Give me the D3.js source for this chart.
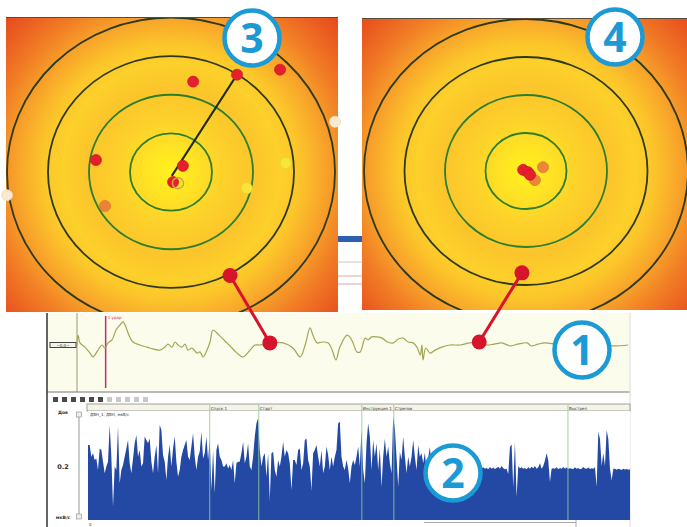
<!DOCTYPE html>
<html><head><meta charset="utf-8">
<script src="https://cdn.jsdelivr.net/npm/d3@7"></script>
<style>html,body{margin:0;padding:0;background:#fff;}svg{display:block;}</style>
</head><body>
<svg id="chart" width="687" height="527"></svg>
<script>
// ---------------- DATA ----------------
const ringRadii = [1, 2, 3, 4];

// Panel 3 shots (target units, rings at 1..4)
const shots3X = [1.61, 2.66, 0.54, -1.83, 0.29, 0.05, 0.17, 2.80, 1.85, -1.61, -4.0, 4.0];
const shots3Y = [2.52, 2.65, 2.34, 0.31, 0.16, -0.26, -0.29, 0.23, -0.42, -0.88, -0.6, 1.3];
const shots3Kind = ["red","red","red","red","red","red","hollow","yellow","yellow","orange","pale","pale"];
const aim3From = [0.02, -0.1];          // start of the aiming line
const aim3To = [1.61, 2.52];            // end of the aiming line

// Panel 4 shots
const shots4X = [0.42, 0.22, -0.07, 0.05, 0.10];
const shots4Y = [0.10, -0.24, 0.03, -0.03, -0.10];
const shots4Kind = ["orange","orange","red","red","red"];

// linked points: target panel point -> trace time
const linkX = [1.44, -0.10];
const linkY = [-2.68, -2.68];
const linkT = [35.0, 73.0];

// Trace (panel 1)
const traceT = [0,0.18,0.54,1.45,2.36,2.9,3.81,4.54,5.08,5.63,6.35,7.08,7.8,8.35,8.89,9.26,10.16,11.43,12.7,13.79,15.06,15.97,16.52,17.24,17.79,18.33,19.06,19.6,20.15,20.87,21.78,22.32,22.87,23.59,24.14,24.68,25.41,26.32,27.22,28.13,29.04,30.13,31.4,32.3,33.2,35.0,37.4,39.2,40.5,41.4,42.3,42.8,43.6,44.5,45.6,46.3,47.0,47.7,49.0,49.5,50.1,50.8,51.4,52.3,52.8,53.5,54.4,55.4,56.3,57.4,58.3,59.2,60.1,61.0,61.7,62.3,62.6,62.8,63.3,64.1,65.0,66.2,67.7,69.5,71.3,73.0,74.4,75.7,77.1,78.6,80.0,81.7,82.4,83.7,84.9,86.9,88.7,90.6,93.1,94.9,97.1,100];
const traceV = [0,0.33,0.07,-0.07,-0.27,-0.4,-0.17,0,-0.1,0.07,0.17,0.5,0.67,0.77,0.6,0.4,0.1,0,-0.07,-0.13,-0.17,-0.07,0.03,-0.07,0.1,0,-0.07,0.03,-0.17,-0.1,-0.27,-0.23,-0.4,-0.17,0.1,0.5,0.4,0.23,0.07,-0.1,-0.27,-0.4,-0.17,0,0,0.07,0.07,-0.1,-0.4,0,0.57,0.33,0.07,0.1,0.07,-0.17,-0.5,-0.07,0.33,0.27,0.07,-0.23,-0.23,0.23,0.17,0.27,0.27,0.23,0.1,0.07,0.2,0.23,0.1,0.07,-0.07,-0.33,0,-0.5,-0.1,-0.27,-0.17,-0.07,0,0,0.07,0.1,0,0.03,0.07,-0.03,0.03,0.07,-0.03,0.03,0.07,0.03,0,0.03,0,0.03,-0.03,0];
const traceMarkT = 5.2;   // magenta marker
const traceMarkLabel = "1 удар";

// Signal (panel 2), in units of the axis (0 .. 0.4)
const signal = [
0.278,0.278,0.234,0.247,0.222,0.228,0.185,0.265,0.259,0.216,
0.173,0.198,0.216,0.352,0.234,0.049,0.198,0.185,0.346,0.136,
0.185,0.204,0.234,0.265,0.296,0.210,0.173,0.228,0.284,0.315,
0.234,0.259,0.198,0.210,0.309,0.296,0.284,0.302,0.216,0.173,
0.234,0.278,0.173,0.352,0.333,0.241,0.216,0.148,0.234,0.278,
0.198,0.265,0.309,0.216,0.160,0.185,0.234,0.259,0.278,0.296,
0.234,0.222,0.272,0.321,0.234,0.185,0.234,0.253,0.327,0.228,
0.247,0.309,0.222,0.296,0.111,0.259,0.099,0.259,0.284,0.234,
0.222,0.198,0.198,0.210,0.191,0.204,0.185,0.222,0.136,0.210,
0.216,0.216,0.247,0.290,0.210,0.234,0.284,0.198,0.185,0.234,
0.309,0.358,0.377,
0.259,0.198,0.234,0.247,0.160,0.247,0.074,0.247,0.253,0.185,
0.160,0.222,0.198,0.234,0.290,0.234,0.259,0.247,0.210,0.111,
0.222,0.222,0.204,0.259,0.265,0.185,0.210,0.296,0.302,0.222,
0.198,0.111,0.247,0.259,0.278,0.234,0.198,0.259,0.173,0.198,
0.272,0.241,0.185,0.234,0.198,0.234,0.259,0.358,0.364,0.234,
0.198,0.185,0.222,0.191,0.136,0.198,0.222,0.204,0.234,0.272,
0.198,0.333,0.185,0.136,0.284,0.358,0.309,0.185,0.296,0.234,
0.284,0.185,0.265,0.123,0.234,0.302,0.234,0.272,0.210,0.173,
0.383,0.340,0.234,0.123,0.253,0.222,0.309,0.234,0.173,0.234,
0.198,0.234,0.296,0.234,0.185,0.278,0.234,0.247,
0.21,0.25,0.18,0.23,0.27,0.2,0.22,0.16,0.24,0.21,
0.26,0.19,0.22,0.2,0.24,0.18,0.21,0.23,0.2,0.19,
0.22,0.2,0.21,0.19,0.2,0.195,0.19,0.2,0.19,0.195,
0.19,0.188,0.192,0.19,0.195,
0.192,0.195,0.19,0.193,0.188,0.196,0.19,0.194,0.189,0.193,0.197,0.19,0.2,0.192,0.188,0.19,
0.17,0.27,0.28,0.12,0.29,0.086,
0.2,0.192,0.195,0.19,0.193,0.188,0.195,0.19,0.197,0.192,0.2,0.19,0.195,0.21,0.19,0.2,0.22,
0.247,0.22,0.142,0.19,
0.192,0.19,0.195,0.188,0.193,0.19,0.196,0.19,0.194,
0.19,
0.192,0.19,0.189,0.195,0.19,0.193,0.188,0.19,0.196,0.191,0.19,0.194,0.189,0.192,0.19,0.195,
0.123,0.327,0.3,0.2,0.247,0.2,0.333,0.3,0.19,0.148,0.19,
0.19,0.186,0.19,0.188,0.185,0.19,0.187,0.189,0.186,0.188
];
const eventIdx = [73.0, 102.4, 164.2, 183.4, 287.8];
const eventLabels = ["Спуск 1", "Старт", "Инструкция 1", "Стрелок", "Выстрел"];
const signalTicks = [0.4, 0.2, 0];
const signalTickLabels = ["Дов", "0.2", "мкВ/с"];
const signalTitle = "ДВН_1, ДВН, мкВ/с";

const badgeLabels = ["1", "2", "3", "4"];

// ---------------- DRAWING ----------------
const svg = d3.select("#chart");
const defs = svg.append("defs");
const BLUE = "#1b9ad6";
const RED = "#d6142c";
const kindFill = {red:"#e3202c", yellow:"#f7e63a", orange:"#e8773c", pale:"#f8ead0", hollow:"none"};
const kindStroke = {red:"#d01a26", yellow:"#eed52c", orange:"#de6a34", pale:"#f2dcb8", hollow:"#d2a640"};

function makePanel(id, box, cx, cy, rx, ry) {
  const x = d3.scaleLinear().domain([-4, 4]).range([cx - rx, cx + rx]);
  const y = d3.scaleLinear().domain([-4, 4]).range([cy + ry, cy - ry]);
  const g = defs.append("radialGradient").attr("id", "grad" + id)
    .attr("gradientUnits", "userSpaceOnUse").attr("cx", cx).attr("cy", cy).attr("r", 232);
  [[0,"#fff21e"],[0.09,"#ffe622"],[0.22,"#fdd22a"],[0.36,"#fbc52b"],[0.47,"#fdd02a"],
   [0.55,"#fcc62a"],[0.66,"#f8a52a"],[0.78,"#f17d25"],[0.9,"#ea5c20"],[1,"#e4451c"]]
    .forEach(([o,c]) => g.append("stop").attr("offset", o).attr("stop-color", c));
  defs.append("clipPath").attr("id", "clip" + id).append("rect")
    .attr("x", box[0]).attr("y", box[1]).attr("width", box[2] - box[0]).attr("height", box[3] - box[1]);
  const grp = svg.append("g").attr("clip-path", `url(#clip${id})`);
  grp.append("rect").attr("x", box[0]).attr("y", box[1]).attr("width", box[2] - box[0])
    .attr("height", box[3] - box[1]).attr("fill", `url(#grad${id})`);
  grp.selectAll("ellipse.ring").data(ringRadii).join("ellipse").attr("class", "ring")
    .attr("cx", x(0)).attr("cy", y(0))
    .attr("rx", d => x(d) - x(0)).attr("ry", d => y(0) - y(d))
    .attr("fill", "none")
    .attr("stroke", (d, i) => i < 2 ? "#2c7d2e" : "#2e3a1c")
    .attr("stroke-width", 1.8);
  svg.append("line").attr("x1", box[0]).attr("x2", box[2]).attr("y1", box[1] + 0.5).attr("y2", box[1] + 0.5)
    .attr("stroke", "#5a4a3a").attr("stroke-width", 1);
  return {x, y, grp};
}

const p3 = makePanel(3, [6, 17, 338, 312], 171, 172, 164, 154.5);
const p4 = makePanel(4, [362, 18, 687, 310], 526, 171, 162, 152);

// aiming line panel 3
p3.grp.append("line")
  .attr("x1", p3.x(aim3From[0])).attr("y1", p3.y(aim3From[1]))
  .attr("x2", p3.x(aim3To[0])).attr("y2", p3.y(aim3To[1]))
  .attr("stroke", "#1e2a12").attr("stroke-width", 2);

function drawShots(p, xs, ys, kinds) {
  const data = xs.map((v, i) => ({x: v, y: ys[i], k: kinds[i]}));
  svg.selectAll(null).data(data).join("circle")
    .attr("cx", d => p.x(d.x)).attr("cy", d => p.y(d.y)).attr("r", 5.5)
    .attr("fill", d => kindFill[d.k]).attr("stroke", d => kindStroke[d.k])
    .attr("stroke-width", d => d.k === "hollow" ? 1.5 : 0.8)
    .attr("opacity", d => d.k === "orange" ? 0.85 : 1);
}
drawShots(p3, shots3X, shots3Y, shots3Kind);
drawShots(p4, shots4X, shots4Y, shots4Kind);

// window fragment between panels
svg.append("rect").attr("x", 338).attr("y", 236).attr("width", 24).attr("height", 6).attr("fill", "#2d5fb0");
svg.append("line").attr("x1", 338).attr("x2", 362).attr("y1", 262).attr("y2", 262).attr("stroke", "#c8c8c8");
svg.append("line").attr("x1", 338).attr("x2", 362).attr("y1", 276).attr("y2", 276).attr("stroke", "#e0b090");
svg.append("line").attr("x1", 338).attr("x2", 362).attr("y1", 284).attr("y2", 284).attr("stroke", "#e0a0b0");

// ---------- Panel 1 : trace ----------
const tr = {left: 47, top: 313, right: 630, bottom: 392};
svg.append("rect").attr("x", tr.left).attr("y", tr.top).attr("width", tr.right - tr.left)
  .attr("height", tr.bottom - tr.top).attr("fill", "#fcfcec");
const tx = d3.scaleLinear().domain([0, 100]).range([77, 628]);
const ty = d3.scaleLinear().domain([-1, 1]).range([375, 315]);
svg.append("line").attr("x1", tx(0)).attr("x2", tx(0)).attr("y1", tr.top).attr("y2", tr.bottom)
  .attr("stroke", "#9a9a78").attr("stroke-width", 1);
svg.append("line").attr("x1", tx(traceMarkT)).attr("x2", tx(traceMarkT)).attr("y1", 316).attr("y2", 388)
  .attr("stroke", "#b5307e").attr("stroke-width", 1.5);
svg.append("text").attr("x", tx(traceMarkT) + 2).attr("y", 319).text(traceMarkLabel)
  .attr("font-family", "DejaVu Sans").attr("font-size", 4).attr("fill", "#c03070");
svg.append("rect").attr("x", 50).attr("y", 342.5).attr("width", 26).attr("height", 5)
  .attr("fill", "#f4f4ea").attr("stroke", "#444").attr("stroke-width", 1);
svg.append("text").attr("x", 63).attr("y", 346.5).attr("text-anchor", "middle").text("−0.0−")
  .attr("font-family", "DejaVu Sans").attr("font-size", 4).attr("fill", "#333");
const traceData = traceT.map((t, i) => [t, traceV[i]]);
svg.append("path").datum(traceData)
  .attr("d", d3.line().x(d => tx(d[0])).y(d => ty(d[1])).curve(d3.curveCatmullRom))
  .attr("fill", "none").attr("stroke", "#a2a654").attr("stroke-width", 1.2);
svg.append("line").attr("x1", tr.left).attr("x2", tr.right).attr("y1", tr.bottom).attr("y2", tr.bottom)
  .attr("stroke", "#777").attr("stroke-width", 1);
svg.append("line").attr("x1", tr.left).attr("x2", tr.left).attr("y1", tr.top).attr("y2", 527)
  .attr("stroke", "#333").attr("stroke-width", 1.5);
svg.append("line").attr("x1", tr.right).attr("x2", tr.right).attr("y1", tr.top).attr("y2", 527)
  .attr("stroke", "#ddd").attr("stroke-width", 1);

// ---------- Panel 2 : signal ----------
const sg = {left: 88, right: 630, top: 411, bottom: 520};
// toolbar
const tb = d3.range(11);
svg.selectAll(null).data(tb).join("rect")
  .attr("x", d => 53 + d * 9).attr("y", 397).attr("width", 5).attr("height", 5)
  .attr("fill", d => d < 6 ? "#4a4a4a" : "#c8c8c8");
// header bar
svg.append("rect").attr("x", 87).attr("y", 404).attr("width", 543).attr("height", 7)
  .attr("fill", "#f4f4ea").attr("stroke", "#8a8a80").attr("stroke-width", 0.8);
svg.append("rect").attr("x", sg.left).attr("y", sg.top).attr("width", sg.right - sg.left)
  .attr("height", sg.bottom - sg.top).attr("fill", "#fff");
const sx = d3.scaleLinear().domain([0, signal.length - 1]).range([sg.left, sg.right]);
const sy = d3.scaleLinear().domain([0, 0.4]).range([sg.bottom, 412]);
defs.append("clipPath").attr("id", "clipSig").append("rect")
  .attr("x", sg.left).attr("y", sg.top).attr("width", sg.right - sg.left).attr("height", sg.bottom - sg.top);
svg.append("path").datum(signal).attr("clip-path", "url(#clipSig)")
  .attr("d", d3.area().x((d, i) => sx(i)).y0(sg.bottom).y1(d => sy(d)))
  .attr("fill", "#2349a4");
svg.selectAll(null).data(eventIdx).join("line")
  .attr("x1", d => sx(d)).attr("x2", d => sx(d)).attr("y1", 405).attr("y2", sg.bottom)
  .attr("stroke", "#8fd08f").attr("stroke-width", 1).attr("opacity", 0.85);
svg.selectAll(null).data(eventIdx).join("text")
  .attr("x", d => sx(d) + 1).attr("y", 409.5).text((d, i) => eventLabels[i])
  .attr("font-family", "DejaVu Sans").attr("font-size", 4).attr("fill", "#333");
svg.append("text").attr("x", 90).attr("y", 415.5).text(signalTitle)
  .attr("font-family", "DejaVu Sans").attr("font-size", 4).attr("fill", "#333");
// left axis labels
svg.selectAll(null).data(signalTicks).join("text")
  .attr("x", 63).attr("y", d => d === 0.4 ? sy(d) + 2 : d === 0 ? sy(d) - 1 : sy(d) + 2.5)
  .attr("text-anchor", "middle").text((d, i) => signalTickLabels[i])
  .attr("font-family", "DejaVu Sans").attr("font-weight", "bold")
  .attr("font-size", (d, i) => i === 1 ? 6.5 : 4.5).attr("fill", "#333");
svg.append("line").attr("x1", 79).attr("x2", 79).attr("y1", 413).attr("y2", 518).attr("stroke", "#999");
svg.append("rect").attr("x", 76.5).attr("y", 412).attr("width", 5).attr("height", 5).attr("fill", "#eee").attr("stroke", "#888").attr("stroke-width", 0.6);
svg.append("rect").attr("x", 76.5).attr("y", 514).attr("width", 5).attr("height", 5).attr("fill", "#eee").attr("stroke", "#888").attr("stroke-width", 0.6);
svg.append("text").attr("x", 89).attr("y", 526).text("0")
  .attr("font-family", "DejaVu Sans").attr("font-size", 4).attr("fill", "#333");
svg.append("line").attr("x1", 424).attr("x2", 576).attr("y1", 522.5).attr("y2", 522.5).attr("stroke", "#aaa");
svg.append("line").attr("x1", 576).attr("x2", 576).attr("y1", 520).attr("y2", 527).attr("stroke", "#aaa");

// ---------- links ----------
const links = [
  {from: [p3.x(linkX[0]), p3.y(linkY[0])], t: linkT[0]},
  {from: [p4.x(linkX[1]), p4.y(linkY[1])], t: linkT[1]}
];
links.forEach(l => {
  const idx = traceT.indexOf(l.t);
  const tp = [tx(l.t), ty(traceV[idx])];
  svg.append("line").attr("x1", l.from[0]).attr("y1", l.from[1]).attr("x2", tp[0]).attr("y2", tp[1])
    .attr("stroke", RED).attr("stroke-width", 3);
  svg.append("circle").attr("cx", l.from[0]).attr("cy", l.from[1]).attr("r", 7.5).attr("fill", RED);
  svg.append("circle").attr("cx", tp[0]).attr("cy", tp[1]).attr("r", 7.5).attr("fill", RED);
});

// ---------- badges ----------
const badgePos = [[582, 350], [453, 473], [252, 38], [615, 37]];
badgeLabels.forEach((b, i) => {
  const [bx, by] = badgePos[i];
  svg.append("circle").attr("cx", bx).attr("cy", by).attr("r", 27.5)
    .attr("fill", "#fff").attr("stroke", BLUE).attr("stroke-width", 4.5);
  svg.append("text").attr("x", bx).attr("y", by + 14.5).attr("text-anchor", "middle").text(b)
    .attr("font-family", "Open Sans").attr("font-weight", 700).attr("font-size", 41).attr("fill", BLUE);
});
</script>
</body></html>
